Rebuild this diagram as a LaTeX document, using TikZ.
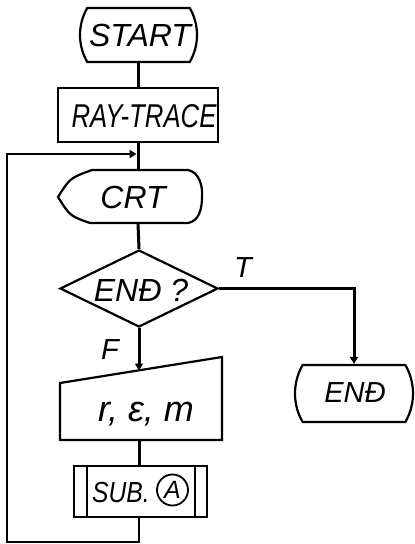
\documentclass[tikz,border=0pt]{standalone}
\usepackage{fontspec}
\setmainfont{Liberation Sans}
\usetikzlibrary{shapes.misc,shapes.geometric,arrows.meta}
\begin{document}
\begin{tikzpicture}[x=1pt,y=-1pt,
  shp/.style={draw,line width=2.2pt},
  conn/.style={line width=3pt},
  hw/.style={font=\fontsize{32}{32}\selectfont\itshape, inner sep=0pt},
  term/.style={shp,rounded rectangle,rounded rectangle arc length=60,inner sep=0pt},
  arr/.style={-{Triangle[length=7pt,width=8pt]}}]
\useasboundingbox (0,0) rectangle (415,544);
% START
\node[term,minimum width=117pt,minimum height=54pt] (start) at (138.5,35) {};
\node[hw] (starttxt) at (140,35) {START};
% RAY-TRACE
\node[shp,rectangle,minimum width=160pt,minimum height=54pt,inner sep=0pt] (ray) at (138,115) {};
\node[hw,font=\fontsize{33}{33}\selectfont\itshape] (raytxt) at (144,116) {\scalebox{0.78}[1]{RAY-TRACE}};
% CRT display
\node[minimum width=144pt,minimum height=53pt,inner sep=0pt] (crt) at (138,196.5) {};
\draw[shp] (92,170) -- (188,170) .. controls (199,172) and (203,186) .. (202,197)
  .. controls (202,209) and (199,221) .. (188,223) -- (90,223)
  .. controls (70,216) .. (58,197) .. controls (70,178) .. (92,170) -- cycle;
\node[hw] (crttxt) at (133,197) {CRT};
% decision
\node[shp,diamond,minimum width=158pt,minimum height=77pt,inner sep=0pt,aspect=2] (dec) at (139,288.5) {};
\node[hw] (dectxt) at (141,290) {ENĐ ?};
% manual input
\node[minimum width=162pt,minimum height=58pt,inner sep=0pt] (mi) at (139,411) {};
\draw[shp] (60,383) -- (222,357) -- (222,440) -- (60,440) -- cycle;
\node[hw,font=\fontsize{36}{36}\selectfont\itshape] (mitxt) at (146,414) {r, ε, m};
\coordinate (mitop) at (139,370.5);
% subroutine
\node[shp,rectangle,minimum width=133pt,minimum height=51pt,inner sep=0pt] (sub) at (140.5,491.5) {};
\draw[shp] (87,466) -- (87,517);
\draw[shp] (195,466) -- (195,517);
\node[hw,font=\fontsize{29}{29}\selectfont\itshape] (subtxt) at (121,493) {\scalebox{0.85}[1]{SUB.}};
\node[draw,circle,line width=1.8pt,inner sep=2pt,minimum size=31pt,font=\fontsize{25}{25}\selectfont\itshape] (suba) at (172.5,490) {A};
% END
\node[term,minimum width=118pt,minimum height=57pt] (endn) at (354,393.5) {};
\node[hw,font=\fontsize{29}{29}\selectfont\itshape] (endtxt) at (355,393) {ENĐ};
% connectors
\draw[conn] (start.south) -- (start.south |- ray.north);
\draw[conn] (ray.south) -- (crt.north);
\draw[conn] (crt.south) -- (dec.north);
\draw[conn,arr] (dec.south) -- (mitop);
\draw[conn] (mi.south) -- (mi.south |- sub.north);
\draw[conn,arr] (dec.east) -| (endn.north);
\coordinate (lb) at (139,542);
\coordinate (ll) at (7,542);
\coordinate (lt) at (7,154);
\coordinate (lj) at (136.5,154);
\draw[line width=2.4pt,arr] (sub.south -| lb) -- (lb) -- (ll) -- (lt) -- (lj);
% labels
\node[hw,font=\fontsize{29}{29}\selectfont\itshape] (tlab) at (243,268) {T};
\node[hw,font=\fontsize{29}{29}\selectfont\itshape] (flab) at (110,350) {F};
\end{tikzpicture}
\end{document}
